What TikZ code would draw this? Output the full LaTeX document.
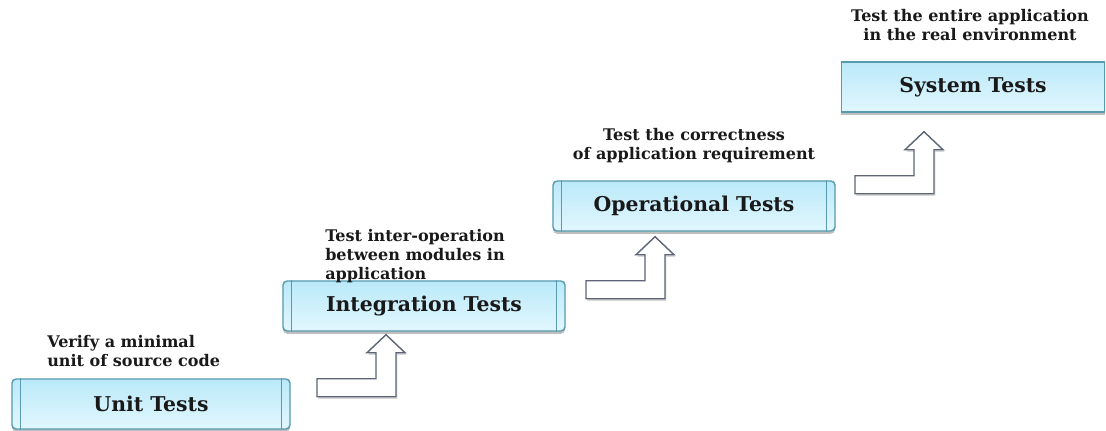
\documentclass[tikz,border=0pt]{standalone}
\usepackage{fontspec}
\setmainfont{DejaVu Serif}
\usetikzlibrary{calc,shadows}

\definecolor{boxtop}{RGB}{186,233,249}
\definecolor{boxbottom}{RGB}{226,247,254}
\definecolor{boxedge}{RGB}{88,155,174}
\definecolor{arrowedge}{RGB}{92,100,118}
\definecolor{textdark}{RGB}{25,25,25}

\tikzset{
    steparrow/.pic={
        \draw[arrowbody] (0,0) -- (19,18) -- (10,18) -- (10,62) -- (-69,62) -- (-69,44)
            -- (-10,44) -- (-10,18) -- (-19,18) -- cycle;
    }
}

\begin{document}
\begin{tikzpicture}[
    x=0.025cm, y=-0.025cm,
    stepbox/.style={rectangle, draw=boxedge, line width=1pt, rounded corners=3pt, top color=boxtop, bottom color=boxbottom, minimum height=1.25cm, font=\fontsize{14.5}{17}\selectfont\bfseries, text=textdark, drop shadow={shadow xshift=0pt, shadow yshift=-2pt, opacity=0.5}},
    bevel/.style={draw=boxedge, line width=0.9pt},
    steplabel/.style={font=\fontsize{11.4}{13.6}\selectfont\bfseries, text=textdark, inner sep=0pt},
    arrowbody/.style={draw=arrowedge, fill=white, line width=1pt, line join=miter, drop shadow={shadow xshift=1pt, shadow yshift=-1.5pt, opacity=0.3}},
]
\useasboundingbox (0,0) rectangle (1106,431);

% === STEP BOXES ===
\node[stepbox, minimum width=6.95cm] (unit) at (151,404) {Unit Tests};
\node[stepbox, minimum width=7.05cm] (integ) at (424,306) {Integration Tests};
\node[stepbox, minimum width=7.05cm] (oper) at (694,206) {Operational Tests};
\node[stepbox, minimum width=6.58cm, rounded corners=0pt] (sys) at (973,87) {System Tests};

% bevelled ends
\foreach \n in {unit,integ,oper} {
    \draw[bevel] ($(\n.north west)+(9,0)$) -- ($(\n.south west)+(9,0)$);
    \draw[bevel] ($(\n.north east)+(-9,0)$) -- ($(\n.south east)+(-9,0)$);
}

% === LABELS ===
\node[steplabel, align=left, anchor=west] (unit-txt) at (47,351) {Verify a minimal\\unit of source code};
\node[steplabel, align=left, anchor=west] (integ-txt) at (325,256) {Test inter-operation\\between modules in\\application};
\node[steplabel, align=center] (oper-txt) at (694,146) {Test the correctness\\of application requirement};
\node[steplabel, align=center] (sys-txt) at (970,25) {Test the entire application\\in the real environment};

% === ARROWS ===
\coordinate (up1) at ($(integ.south)+(-38,3)$);
\coordinate (up2) at ($(oper.south)+(-39,5)$);
\coordinate (up3) at ($(sys.south)+(-49,19)$);
\pic at (up1) {steparrow};
\pic at (up2) {steparrow};
\pic at (up3) {steparrow};

\end{tikzpicture}
\end{document}
